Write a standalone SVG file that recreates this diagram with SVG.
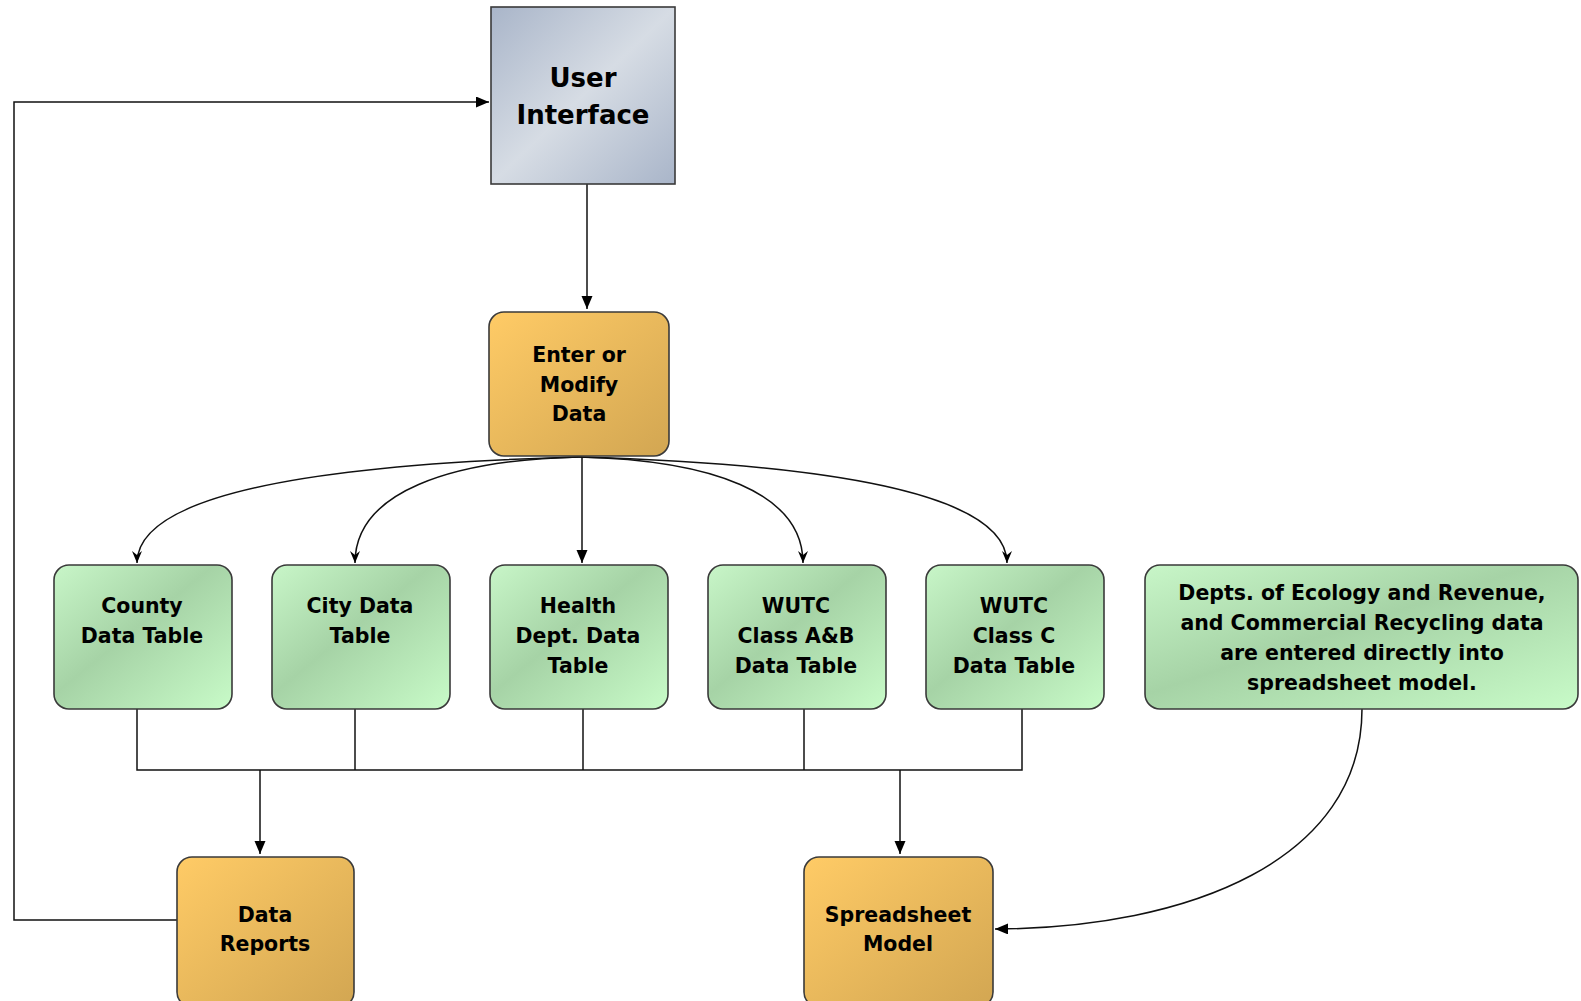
<svg xmlns="http://www.w3.org/2000/svg" width="1581" height="1001" viewBox="0 0 1581 1001">
<style>
  .lbl { font-family: "DejaVu Sans", "Liberation Sans", sans-serif; font-weight: bold; font-size: 20.5px; fill: #000; text-anchor: middle; }
  .title { font-size: 26px; }
  .box { stroke: #3a3a3a; stroke-width: 1.6; }
  .green { fill: url(#gGreen); }
  .orange { fill: url(#gOrange); }
  .ui { fill: url(#gUI); }
  .conn { fill: none; stroke: #111; stroke-width: 1.5; }
</style>
<defs>
  <linearGradient id="gGreen" x1="0" y1="0" x2="1" y2="1">
    <stop offset="0" stop-color="#c8f6c8"/>
    <stop offset="0.45" stop-color="#a6d3a6"/>
    <stop offset="1" stop-color="#c8fbc8"/>
  </linearGradient>
  <linearGradient id="gOrange" x1="0" y1="0" x2="1" y2="1">
    <stop offset="0" stop-color="#ffcb66"/>
    <stop offset="1" stop-color="#d2a652"/>
  </linearGradient>
  <linearGradient id="gUI" x1="0" y1="0" x2="1" y2="1">
    <stop offset="0" stop-color="#a9b5c9"/>
    <stop offset="0.5" stop-color="#d6dce4"/>
    <stop offset="1" stop-color="#a9b5c9"/>
  </linearGradient>
  <marker id="tri" markerUnits="userSpaceOnUse" markerWidth="14" markerHeight="12" refX="13" refY="5.5" orient="auto">
    <path d="M0,0 L13,5.5 L0,11 z" fill="#000"/>
  </marker>
  <marker id="barb" markerUnits="userSpaceOnUse" markerWidth="14" markerHeight="11" refX="12" refY="5" orient="auto">
    <path d="M0,0 L12,5 L0,10 L4,5 z" fill="#000"/>
  </marker>
</defs>

<g id="connectors">
  <path class="conn" d="M587,184 L587,309" marker-end="url(#tri)"/>
  <path class="conn" d="M177,920 L14,920 L14,102 L489,102" marker-end="url(#tri)"/>
  <path class="conn" d="M579,457 C285,465 137,500 137,563" marker-end="url(#barb)"/>
  <path class="conn" d="M579,457 C450,460 355,492 355,563" marker-end="url(#barb)"/>
  <path class="conn" d="M582,457 L582,563" marker-end="url(#tri)"/>
  <path class="conn" d="M579,457 C710,460 803,492 803,563" marker-end="url(#barb)"/>
  <path class="conn" d="M579,457 C860,465 1007,500 1007,563" marker-end="url(#barb)"/>
  <path class="conn" d="M137,709 L137,770 L1022,770 L1022,709"/>
  <path class="conn" d="M355,709 L355,770"/>
  <path class="conn" d="M583,709 L583,770"/>
  <path class="conn" d="M804,709 L804,770"/>
  <path class="conn" d="M260,770 L260,854" marker-end="url(#tri)"/>
  <path class="conn" d="M900,770 L900,854" marker-end="url(#tri)"/>
  <path class="conn" d="M1362,709 C1362,860 1190,928 995,929" marker-end="url(#tri)"/>
</g>

<g id="node-ui">
  <rect class="box ui" x="491" y="7" width="184" height="177"/>
  <text class="lbl title" x="583" y="87">User</text>
  <text class="lbl title" x="583" y="124">Interface</text>
</g>

<g id="node-enter">
  <rect class="box orange" x="489" y="312" width="180" height="144" rx="15"/>
  <text class="lbl" x="579" y="362">Enter or</text>
  <text class="lbl" x="579" y="392">Modify</text>
  <text class="lbl" x="579" y="421">Data</text>
</g>

<g id="node-county">
  <rect class="box green" x="54" y="565" width="178" height="144" rx="15"/>
  <text class="lbl" x="142" y="613">County</text>
  <text class="lbl" x="142" y="643">Data Table</text>
</g>

<g id="node-city">
  <rect class="box green" x="272" y="565" width="178" height="144" rx="15"/>
  <text class="lbl" x="360" y="613">City Data</text>
  <text class="lbl" x="360" y="643">Table</text>
</g>

<g id="node-health">
  <rect class="box green" x="490" y="565" width="178" height="144" rx="15"/>
  <text class="lbl" x="578" y="613">Health</text>
  <text class="lbl" x="578" y="643">Dept. Data</text>
  <text class="lbl" x="578" y="673">Table</text>
</g>

<g id="node-wutc-ab">
  <rect class="box green" x="708" y="565" width="178" height="144" rx="15"/>
  <text class="lbl" x="796" y="613">WUTC</text>
  <text class="lbl" x="796" y="643">Class A&amp;B</text>
  <text class="lbl" x="796" y="673">Data Table</text>
</g>

<g id="node-wutc-c">
  <rect class="box green" x="926" y="565" width="178" height="144" rx="15"/>
  <text class="lbl" x="1014" y="613">WUTC</text>
  <text class="lbl" x="1014" y="643">Class C</text>
  <text class="lbl" x="1014" y="673">Data Table</text>
</g>

<g id="node-depts">
  <rect class="box green" x="1145" y="565" width="433" height="144" rx="15"/>
  <text class="lbl" x="1362" y="600">Depts. of Ecology and Revenue,</text>
  <text class="lbl" x="1362" y="630">and Commercial Recycling data</text>
  <text class="lbl" x="1362" y="660">are entered directly into</text>
  <text class="lbl" x="1362" y="690">spreadsheet model.</text>
</g>

<g id="node-reports">
  <rect class="box orange" x="177" y="857" width="177" height="150" rx="15"/>
  <text class="lbl" x="265" y="922">Data</text>
  <text class="lbl" x="265" y="951">Reports</text>
</g>

<g id="node-spreadsheet">
  <rect class="box orange" x="804" y="857" width="189" height="150" rx="15"/>
  <text class="lbl" x="898" y="922">Spreadsheet</text>
  <text class="lbl" x="898" y="951">Model</text>
</g>
</svg>
